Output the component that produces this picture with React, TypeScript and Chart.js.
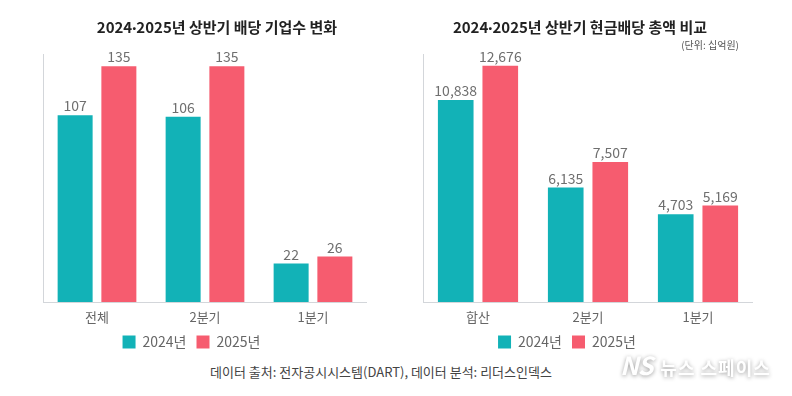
import React, { useEffect, useRef } from "react";
import { Chart, registerables } from "chart.js";

Chart.register(...registerables);

const FONT = "'Noto Sans CJK KR', 'Noto Sans', sans-serif";

const seriesLabels = ["2024년", "2025년"];
const seriesColors = ["#12b2b7", "#f65c6f"];

const companyCategories = ["전체", "2분기", "1분기"];
const companies2024 = [107, 106, 22];
const companies2025 = [135, 135, 26];

const cashCategories = ["합산", "2분기", "1분기"];
const cash2024 = [10838, 6135, 4703];
const cash2025 = [12676, 7507, 5169];

const companyTitle = "2024·2025년 상반기 배당 기업수 변화";
const cashTitle = "2024·2025년 상반기 현금배당 총액 비교";
const cashUnit = "(단위: 십억원)";
const sourceNote = "데이터 출처: 전자공시시스템(DART), 데이터 분석: 리더스인덱스";

const valueLabels = {
  id: "valueLabels",
  afterDatasetsDraw(chart: any) {
    const ctx = chart.ctx;
    ctx.save();
    ctx.font = `14px ${FONT}`;
    ctx.fillStyle = "#6f6f6f";
    ctx.textAlign = "center";
    ctx.textBaseline = "alphabetic";
    chart.data.datasets.forEach((ds: any, i: number) => {
      const meta = chart.getDatasetMeta(i);
      meta.data.forEach((bar: any, j: number) => {
        const v = ds.data[j] as number;
        ctx.fillText(v.toLocaleString("en-US"), bar.x, bar.y - 4);
      });
    });
    ctx.restore();
  },
};

type PanelProps = {
  left: number;
  width: number;
  yAxisWidth: number;
  yMax: number;
  categories: string[];
  a: number[];
  b: number[];
};

function BarPanel({ left, width, yAxisWidth, yMax, categories, a, b }: PanelProps) {
  const ref = useRef<HTMLCanvasElement | null>(null);
  useEffect(() => {
    if (!ref.current) return;
    const chart = new Chart(ref.current, {
      type: "bar",
      data: {
        labels: categories,
        datasets: [
          { label: seriesLabels[0], data: a, backgroundColor: seriesColors[0], borderWidth: 0 },
          { label: seriesLabels[1], data: b, backgroundColor: seriesColors[1], borderWidth: 0 },
        ],
      },
      options: {
        responsive: false,
        animation: false,
        layout: { padding: { top: 54, bottom: 0, left: 0, right: 0 } },
        datasets: { bar: { categoryPercentage: 0.81, barPercentage: 0.8 } } as any,
        scales: {
          x: {
            grid: { display: false, drawTicks: false },
            border: { display: true, color: "#d3d6da", width: 1 },
            ticks: { color: "#666", font: { size: 13, family: FONT }, padding: 7 },
            afterFit: (scale: any) => {
              scale.height = 23;
            },
          },
          y: {
            min: 0,
            max: yMax,
            grid: { display: false, drawTicks: false },
            border: { display: true, color: "#d3d6da", width: 1 },
            ticks: { display: false },
            afterFit: (scale: any) => {
              scale.width = yAxisWidth;
            },
          },
        },
        plugins: {
          title: { display: false },
          tooltip: { enabled: false },
          legend: {
            position: "bottom",
            labels: {
              boxWidth: 13,
              boxHeight: 13,
              padding: 10,
              color: "#666",
              font: { size: 14, family: FONT },
            },
          },
        },
      },
      plugins: [valueLabels],
    });
    return () => chart.destroy();
  }, []);
  return (
    <canvas
      ref={ref}
      width={width}
      height={359}
      style={{ position: "absolute", left, top: 0, width, height: 359 }}
    />
  );
}

function Title({ text, center }: { text: string; center: number }) {
  const parts = text.split("·");
  return (
    <div
      style={{
        position: "absolute",
        left: center,
        top: 17,
        transform: "translateX(-50%)",
        whiteSpace: "nowrap",
        fontSize: 15,
        fontWeight: 700,
        color: "#222",
        lineHeight: "20px",
      }}
    >
      {parts[0]}
      <span style={{ fontFamily: "Lato, 'Noto Sans'" }}>·</span>
      {parts[1]}
    </div>
  );
}

export default function App() {
  useEffect(() => {
    document.body.style.margin = "0";
  }, []);
  return (
    <div
      style={{
        position: "fixed",
        left: 0,
        top: 0,
        width: 792,
        height: 396,
        background: "#fff",
        overflow: "hidden",
        fontFamily: FONT,
      }}
    >
      <BarPanel
        left={16}
        width={351}
        yAxisWidth={27}
        yMax={142}
        categories={companyCategories}
        a={companies2024}
        b={companies2025}
      />
      <BarPanel
        left={381}
        width={372}
        yAxisWidth={42}
        yMax={13300}
        categories={cashCategories}
        a={cash2024}
        b={cash2025}
      />
      <Title text={companyTitle} center={217} />
      <Title text={cashTitle} center={580} />
      <div
        style={{
          position: "absolute",
          right: 53,
          top: 38,
          whiteSpace: "nowrap",
          fontSize: 10,
          color: "#555",
          lineHeight: "14px",
        }}
      >
        {cashUnit}
      </div>
      <div
        style={{
          position: "absolute",
          left: 0,
          width: 762,
          top: 363,
          textAlign: "center",
          whiteSpace: "nowrap",
          fontSize: 13,
          color: "#444",
          lineHeight: "18px",
        }}
      >
        {sourceNote}
      </div>
      <div
        style={{
          position: "absolute",
          left: 620,
          top: 351,
          whiteSpace: "nowrap",
          color: "#fff",
          fontWeight: 700,
          lineHeight: "26px",
          textShadow: "0 1px 4px rgba(0,0,0,0.4)",
        }}
      >
        <span style={{ fontSize: 25, fontStyle: "italic", letterSpacing: -1 }}>NS</span>
        <span style={{ fontSize: 18, marginLeft: 8, letterSpacing: 1 }}>뉴스 스페이스</span>
      </div>
    </div>
  );
}
